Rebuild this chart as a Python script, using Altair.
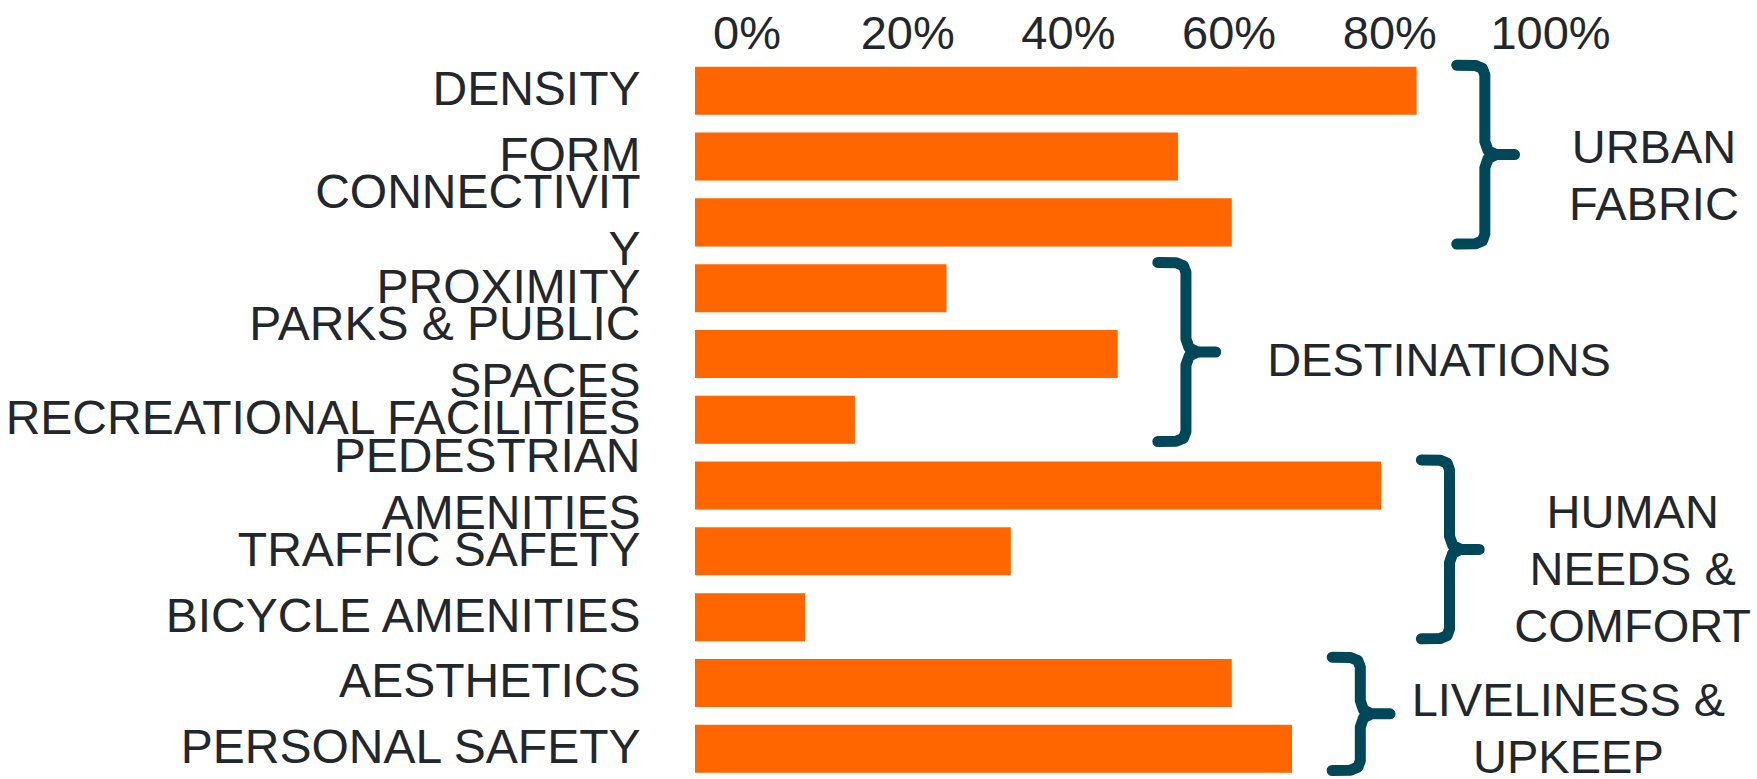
import json
import altair as alt
import pandas as pd

# ---------------- data ----------------
categories = [
    "DENSITY", "FORM", "CONNECTIVITY", "PROXIMITY", "PARKS & PUBLIC SPACES",
    "RECREATIONAL FACILITIES", "PEDESTRIAN AMENITIES", "TRAFFIC SAFETY",
    "BICYCLE AMENITIES", "AESTHETICS", "PERSONAL SAFETY",
]
values = [0.898, 0.601, 0.668, 0.313, 0.526, 0.199, 0.854, 0.393, 0.137, 0.668, 0.743]
label_lines = [
    ["DENSITY"], ["FORM"], ["CONNECTIVIT", "Y"], ["PROXIMITY"],
    ["PARKS & PUBLIC", "SPACES"], ["RECREATIONAL FACILITIES"],
    ["PEDESTRIAN", "AMENITIES"], ["TRAFFIC SAFETY"], ["BICYCLE AMENITIES"],
    ["AESTHETICS"], ["PERSONAL SAFETY"],
]
group_names = ["URBAN\nFABRIC", "DESTINATIONS", "HUMAN\nNEEDS &\nCOMFORT", "LIVELINESS &\nUPKEEP"]
group_first = [0, 3, 6, 9]
group_last = [2, 5, 8, 10]
tick_values = [0, 0.2, 0.4, 0.6, 0.8, 1.0]

# annotation layout (in data units): centre of each group label block
group_label_x = [1.1935, 0.926, 1.167, 1.087]
group_label_y = [1.32, 4.12, 7.30, 9.73]

# ---------------- styles ----------------
FONT = "Liberation Sans"
TEXT = "#22272c"
ORANGE = "#ff6600"
BRACE = "#00475a"
FS = 48
LINE_H = 57
PX_PER_ROW = 65.8
HALF_LINE = LINE_H / PX_PER_ROW / 2

xscale = alt.Scale(domain=[0, 1.3217], nice=False, zero=False)
yscale = alt.Scale(domain=[-0.4985, 10.46], reverse=True, nice=False, zero=False)

bars = pd.DataFrame({
    "idx": list(range(len(categories))),
    "category": categories,
    "value": values,
})
bars["x0"] = 0.0
bars["y0"] = bars["idx"] - 0.365
bars["y1"] = bars["idx"] + 0.365

# multi-line labels are drawn from their first line, so lift their tick
# position by half a line per extra line; round() recovers the index
label_ticks = [i - (len(lines) - 1) * HALF_LINE for i, lines in enumerate(label_lines)]
label_expr = json.dumps(label_lines) + "[round(datum.value)]"

x_axis = alt.Axis(
    orient="top", values=tick_values, format=".0%", grid=False, ticks=False,
    tickSize=0, domain=False, labelFont=FONT, labelFontSize=FS - 1, labelColor=TEXT,
    labelPadding=10, labelBaseline="alphabetic", labelOffset=51.5, labelFlush=False,
    labelOverlap=False, title=None,
)
y_axis = alt.Axis(
    orient="left", values=label_ticks, labelExpr=label_expr,
    grid=False, ticks=False, tickSize=0, domain=False, labelFont=FONT,
    labelFontSize=FS, labelColor=TEXT, labelPadding=55, labelLineHeight=LINE_H,
    labelAlign="right", labelBaseline="middle", labelOverlap=False,
    labelLimit=0, title=None,
)

shadow = alt.Chart(bars).mark_rect(color="#8a8a8a", opacity=0.28, xOffset=1.5, yOffset=3).encode(
    x=alt.X("x0:Q", scale=xscale, axis=x_axis),
    x2="value:Q",
    y=alt.Y("y0:Q", scale=yscale, axis=y_axis),
    y2="y1:Q",
)

bar_layer = alt.Chart(bars).mark_rect(color=ORANGE).encode(
    x=alt.X("x0:Q", scale=xscale, axis=x_axis),
    x2="value:Q",
    y=alt.Y("y0:Q", scale=yscale, axis=y_axis),
    y2="y1:Q",
)

# ---------------- braces ----------------
ARM, TIP, GAP = 0.035, 0.037, 0.085
rows = []
for g, (f, l) in enumerate(zip(group_first, group_last)):
    s = max(values[f:l + 1]) + GAP
    top = f - 0.39
    bot = l + 0.33
    mid = (top + bot) / 2
    pts = [
        (s - ARM, top), (s - 0.012, top + 0.004), (s - 0.003, top + 0.05), (s, top + 0.15),
        (s, mid - 0.2), (s + 0.004, mid - 0.06), (s + 0.014, mid), (s + TIP, mid),
        (s + 0.014, mid), (s + 0.004, mid + 0.06), (s, mid + 0.2),
        (s, bot - 0.15), (s - 0.003, bot - 0.05), (s - 0.012, bot - 0.004), (s - ARM, bot),
    ]
    for i, (px, py) in enumerate(pts):
        rows.append({"group": g, "order": i, "bx": px, "by": py})
braces = pd.DataFrame(rows)

brace_layer = alt.Chart(braces).mark_line(
    color=BRACE, strokeWidth=11, strokeCap="round", strokeJoin="round"
).encode(
    x=alt.X("bx:Q", scale=xscale, axis=x_axis),
    y=alt.Y("by:Q", scale=yscale, axis=y_axis),
    order="order:Q",
    detail="group:N",
)

# first line sits at y: shift so that the whole block is centred on the label y
gy_first = [gy - name.count("\n") * HALF_LINE for name, gy in zip(group_names, group_label_y)]
glabels = pd.DataFrame({"name": group_names, "gx": group_label_x, "gy": gy_first})
glabel_layer = alt.Chart(glabels).mark_text(
    font=FONT, fontSize=FS - 1, color=TEXT, align="center", baseline="middle",
    lineBreak="\n", lineHeight=LINE_H,
).encode(
    x=alt.X("gx:Q", scale=xscale, axis=x_axis),
    y=alt.Y("gy:Q", scale=yscale, axis=y_axis),
    text="name:N",
)

chart = alt.layer(shadow, bar_layer, brace_layer, glabel_layer).properties(
    width=1062, height=721,
    autosize=alt.AutoSizeParams(type="none"),
    padding={"left": 695, "top": 58, "right": 0, "bottom": 0},
    background="white",
).configure_view(stroke=None)

chart.save("out.html", embed_options={"renderer": "svg", "actions": False})
